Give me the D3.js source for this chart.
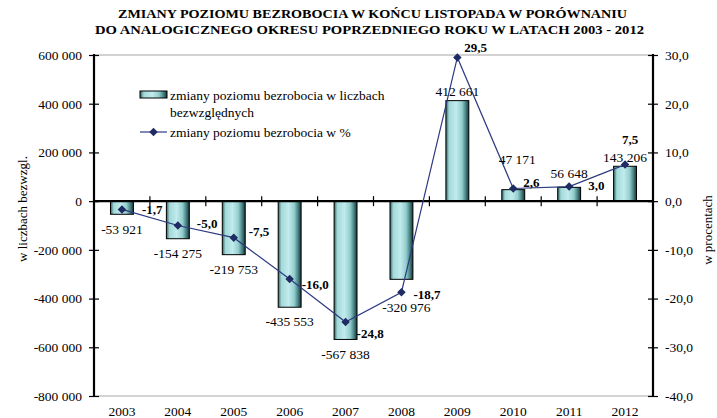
<!DOCTYPE html>
<html>
<head>
<meta charset="utf-8">
<script src="https://cdn.jsdelivr.net/npm/d3@7"></script>
<style>
  body { margin: 0; background: #fff; }
  svg text { font-family: "Liberation Serif", "Times New Roman", serif; fill: #000; }
</style>
</head>
<body>
<div id="chart"></div>
<script>
// data
var years = ["2003", "2004", "2005", "2006", "2007", "2008", "2009", "2010", "2011", "2012"];
var absChange = [-53921, -154275, -219753, -435553, -567838, -320976, 412661, 47171, 56648, 143206];
var pctChange = [-1.7, -5.0, -7.5, -16.0, -24.8, -18.7, 29.5, 2.6, 3.0, 7.5];
var leftTicks = [600000, 400000, 200000, 0, -200000, -400000, -600000, -800000];
var rightTicks = [30, 20, 10, 0, -10, -20, -30, -40];
var titleLines = [
  "ZMIANY POZIOMU BEZROBOCIA W KOŃCU  LISTOPADA  W PORÓWNANIU",
  "DO ANALOGICZNEGO OKRESU POPRZEDNIEGO  ROKU  W LATACH  2003 - 2012"
];
var legendBar = ["zmiany poziomu bezrobocia w liczbach", "bezwzględnych"];
var legendLine = "zmiany poziomu bezrobocia w %";

/*
 * Bounds of component.
 */
var width = 717,
    height = 418,
    plotLeft = 94, plotRight = 653, plotTop = 55, plotBottom = 396;

var pl = d3.formatLocale({decimal: ",", thousands: " ", grouping: [3], currency: ["", ""], minus: "-"});
var fmtAbs = pl.format(",.0f"),
    fmtPct = pl.format(".1f");

var svg = d3.select("#chart").append("svg")
    .attr("width", width)
    .attr("height", height);

/*
 * Scales.
 */
var x = d3.scaleBand()
    .domain(years)
    .range([plotLeft, plotRight])
    .paddingInner(0.59)
    .paddingOuter(0.295);

var y = d3.scaleLinear().domain([-800000, 600000]).range([plotBottom, plotTop]);
var yp = d3.scaleLinear().domain([-40, 30]).range([plotBottom, plotTop]);

/*
 * Bar gradient.
 */
var grad = svg.append("defs").append("linearGradient")
    .attr("id", "barGrad")
    .attr("x1", "0%").attr("x2", "100%").attr("y1", "0%").attr("y2", "0%");
[["0%", "#2f5f60"], ["14%", "#a3d9da"], ["45%", "#c1ebec"], ["70%", "#94cdce"], ["86%", "#4a8586"], ["100%", "#143738"]]
  .forEach(function(s) { grad.append("stop").attr("offset", s[0]).attr("stop-color", s[1]); });

/*
 * Title.
 */
svg.selectAll(".title")
    .data(titleLines)
    .enter().append("text")
    .attr("class", "title")
    .attr("x", function(d, i) { return i === 0 ? 118 : 95; })
    .attr("y", function(d, i) { return 18 + i * 16; })
    .attr("textLength", function(d, i) { return i === 0 ? 509 : 549; })
    .attr("lengthAdjust", "spacingAndGlyphs")
    .style("font-size", "11.5px")
    .style("font-weight", "bold")
    .text(function(d) { return d; });

/*
 * Plot frame: grey top and bottom lines.
 */
svg.selectAll(".frame")
    .data([plotTop, plotBottom])
    .enter().append("line")
    .attr("x1", plotLeft).attr("x2", plotRight)
    .attr("y1", function(d) { return d; }).attr("y2", function(d) { return d; })
    .attr("stroke", "#a6a6a6").attr("stroke-width", 1);

/*
 * Bars.
 */
svg.selectAll(".bar")
    .data(absChange)
    .enter().append("rect")
    .attr("class", "bar")
    .attr("x", function(d, i) { return x(years[i]); })
    .attr("width", x.bandwidth())
    .attr("y", function(d) { return y(Math.max(0, d)); })
    .attr("height", function(d) { return Math.abs(y(d) - y(0)); })
    .attr("fill", "url(#barGrad)")
    .attr("stroke", "#000")
    .attr("stroke-width", 1);

/*
 * Axes.
 */
var leftAxis = svg.append("g")
    .attr("transform", "translate(" + plotLeft + ",0)")
    .call(d3.axisLeft(y).tickValues(leftTicks).tickFormat(fmtAbs).tickSize(5).tickPadding(7));
leftAxis.selectAll(".tick line").attr("x2", -5).attr("x1", 5).attr("stroke-width", 1.2);

var rightAxis = svg.append("g")
    .attr("transform", "translate(" + plotRight + ",0)")
    .call(d3.axisRight(yp).tickValues(rightTicks).tickFormat(fmtPct).tickSize(5).tickPadding(7));
rightAxis.selectAll(".tick line").attr("x1", -5).attr("x2", 5).attr("stroke-width", 1.2);

[leftAxis, rightAxis].forEach(function(a) {
  a.select(".domain").remove();
  a.selectAll("text").style("font-size", "13.5px").style("font-family", "Liberation Serif");
});

svg.selectAll(".vaxis")
    .data([plotLeft, plotRight])
    .enter().append("line")
    .attr("x1", function(d) { return d; }).attr("x2", function(d) { return d; })
    .attr("y1", plotTop - 1).attr("y2", plotBottom + 1)
    .attr("stroke", "#000").attr("stroke-width", 2.2);

// zero line with category separators
svg.append("line")
    .attr("x1", plotLeft).attr("x2", plotRight)
    .attr("y1", y(0)).attr("y2", y(0))
    .attr("stroke", "#000").attr("stroke-width", 2.2);

svg.selectAll(".sep")
    .data(years.slice(1))
    .enter().append("line")
    .attr("x1", function(d) { return x(d) - x.step() * x.paddingInner() / 2; })
    .attr("x2", function(d) { return x(d) - x.step() * x.paddingInner() / 2; })
    .attr("y1", y(0) - 5).attr("y2", y(0) + 5)
    .attr("stroke", "#000").attr("stroke-width", 1.2);

// year labels
svg.selectAll(".year")
    .data(years)
    .enter().append("text")
    .attr("x", function(d) { return x(d) + x.bandwidth() / 2; })
    .attr("y", plotBottom + 15)
    .attr("dy", "0.35em")
    .attr("text-anchor", "middle")
    .style("font-size", "13.5px")
    .text(function(d) { return d; });

// axis titles
svg.append("text")
    .attr("transform", "translate(22,209) rotate(-90)")
    .attr("text-anchor", "middle")
    .attr("dy", "0.35em")
    .style("font-size", "13px")
    .text("w liczbach bezwzgl.");

svg.append("text")
    .attr("transform", "translate(707,230) rotate(-90)")
    .attr("text-anchor", "middle")
    .attr("dy", "0.35em")
    .style("font-size", "13px")
    .text("w procentach");

/*
 * Percent line with diamond markers.
 */
var cx = function(i) { return x(years[i]) + x.bandwidth() / 2; };

var line = d3.line()
    .x(function(d, i) { return cx(i); })
    .y(function(d) { return yp(d); });

svg.append("path")
    .datum(pctChange)
    .attr("d", line)
    .attr("fill", "none")
    .attr("stroke", "#2e3a80")
    .attr("stroke-width", 1.2);

var diamond = d3.symbol().type(d3.symbolSquare).size(36);

svg.selectAll(".marker")
    .data(pctChange)
    .enter().append("path")
    .attr("d", diamond)
    .attr("transform", function(d, i) { return "translate(" + cx(i) + "," + yp(d) + ") rotate(45)"; })
    .attr("fill", "#1f2b63");

/*
 * Value labels. Offsets follow where the labels sit in the reference.
 */
var barNudge = {5: [5, 28], 7: [4, -30], 8: [0, -14]};

svg.selectAll(".barlabel")
    .data(absChange)
    .enter().append("text")
    .attr("x", function(d, i) { return cx(i) + (barNudge[i] ? barNudge[i][0] : 0); })
    .attr("y", function(d, i) {
      if (barNudge[i]) return y(d) + barNudge[i][1];
      return y(d) + (d < 0 ? 14.5 : -9);
    })
    .attr("dy", "0.35em")
    .attr("text-anchor", "middle")
    .style("font-size", "13.5px")
    .text(function(d) { return fmtAbs(d); });

var pctNudge = [[20, 0], [19, -2], [15, -6], [12, 5], [11, 11], [12, 2], [7, -10], [10, -6], [19, -1], [-3, -25]];

svg.selectAll(".pctlabel")
    .data(pctChange)
    .enter().append("text")
    .attr("x", function(d, i) { return cx(i) + pctNudge[i][0]; })
    .attr("y", function(d, i) { return yp(d) + pctNudge[i][1]; })
    .attr("dy", "0.35em")
    .attr("text-anchor", "start")
    .style("font-size", "13px")
    .style("font-weight", "bold")
    .text(function(d) { return fmtPct(d); });

/*
 * Legend.
 */
var legend = svg.append("g");

legend.append("rect")
    .attr("x", 140).attr("y", 91)
    .attr("width", 27).attr("height", 7)
    .attr("fill", "url(#barGrad)")
    .attr("stroke", "#000").attr("stroke-width", 1);

legend.selectAll(".legtxt")
    .data(legendBar.concat([legendLine]))
    .enter().append("text")
    .attr("x", 170)
    .attr("y", function(d, i) { return [95, 112, 132][i]; })
    .attr("dy", "0.35em")
    .style("font-size", "13.5px")
    .text(function(d) { return d; });

legend.append("line")
    .attr("x1", 140).attr("x2", 167)
    .attr("y1", 132).attr("y2", 132)
    .attr("stroke", "#2e3a80").attr("stroke-width", 1.2);

legend.append("path")
    .attr("d", diamond)
    .attr("transform", "translate(153.5,132) rotate(45)")
    .attr("fill", "#1f2b63");
</script>
</body>
</html>
